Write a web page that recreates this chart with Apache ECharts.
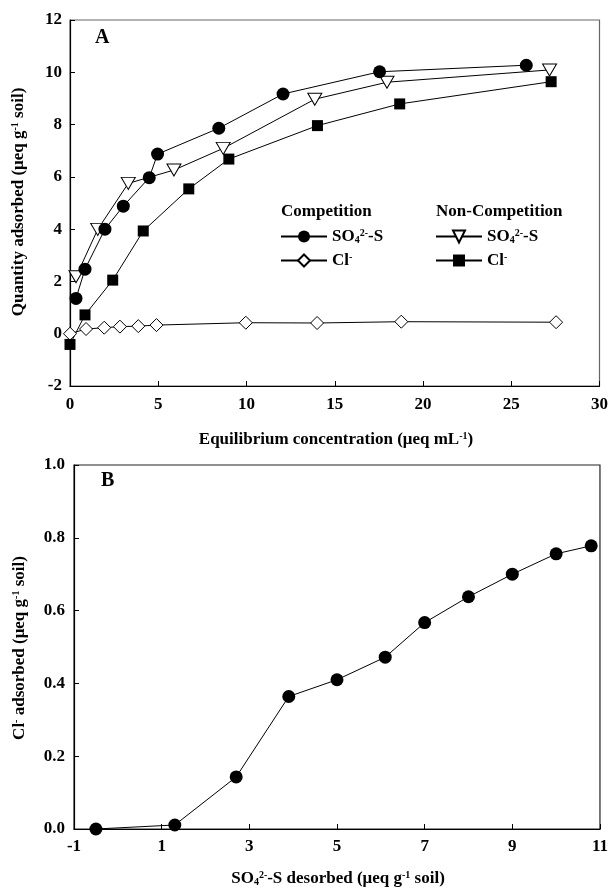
<!DOCTYPE html>
<html>
<head>
<meta charset="utf-8">
<script src="https://cdn.jsdelivr.net/npm/echarts@6/dist/echarts.min.js"></script>
<style>
  html, body { margin: 0; padding: 0; background: #fff; }
  #chart { width: 611px; height: 892px; }
</style>
</head>
<body>
<div id="chart"></div>
<script>
// ---- chart A: adsorption isotherms ----
var compSO4X = [0.34, 0.85, 1.98, 3.02, 4.49, 4.96, 8.43, 12.07, 17.54, 25.85];
var compSO4Y = [1.35, 2.47, 4.00, 4.88, 5.97, 6.87, 7.86, 9.17, 10.02, 10.27];
var compClX = [0, 0.91, 1.94, 2.83, 3.87, 4.90, 9.96, 14.0, 18.77, 27.54];
var compClY = [0, 0.18, 0.23, 0.27, 0.29, 0.33, 0.42, 0.41, 0.46, 0.44];
var nonSO4X = [0.34, 1.57, 3.30, 5.89, 8.68, 13.87, 17.96, 27.17];
var nonSO4Y = [2.18, 3.99, 5.75, 6.26, 7.09, 8.97, 9.62, 10.09];
var nonClX = [0, 0.85, 2.42, 4.15, 6.73, 9.00, 14.02, 18.68, 27.26];
var nonClY = [-0.41, 0.72, 2.05, 3.93, 5.54, 6.68, 7.96, 8.79, 9.64];

// ---- chart B: Cl- adsorbed vs SO4 desorbed ----
var desorbX = [-0.5, 1.3, 2.7, 3.9, 5.0, 6.1, 7.0, 8.0, 9.0, 10.0, 10.8];
var clAdsY = [0, 0.011, 0.143, 0.364, 0.41, 0.472, 0.567, 0.638, 0.70, 0.756, 0.778];
var bottomXTicks = [-1, 1, 3, 5, 7, 9, 11];

var FONT = '"Liberation Serif", "Times New Roman", serif';
var FS = 17;

function pairs(xs, ys) {
  var out = [];
  for (var i = 0; i < xs.length; i++) out.push([xs[i], ys[i]]);
  return out;
}

// 上下标样式
var rich = {
  sup: { fontFamily: FONT, fontWeight: 'bold', fontSize: 10, verticalAlign: 'top', padding: [0, 0, 7, 0] },
  sub: { fontFamily: FONT, fontWeight: 'bold', fontSize: 10, verticalAlign: 'bottom', padding: [7, 0, 0, 0] }
};
var legendNames = {
  cSO4: 'SO{sub|4}{sup|2-}-S',
  cCl: 'Cl{sup|-}',
  nSO4: 'SO{sub|4}{sup|2-}-S',
  nCl: 'Cl{sup|-}'
};

function label(margin, extra) {
  var l = { fontFamily: FONT, fontWeight: 'bold', fontSize: FS, color: '#000', margin: margin };
  return extra ? merge(l, extra) : l;
}

function axisCommon() {
  return {
    axisLine: { show: true, onZero: false, lineStyle: { color: '#000', width: 1.2 } },
    axisTick: { show: true, inside: true, length: 5, lineStyle: { color: '#000' } },
    splitLine: { show: false }
  };
}

function merge(a, b) {
  for (var k in b) a[k] = b[k];
  return a;
}

function titleText(text, x, y, rotate) {
  return {
    type: 'text',
    x: x, y: y,
    rotation: rotate ? Math.PI / 2 : 0,
    style: {
      text: text,
      fontFamily: FONT, fontWeight: 'bold', fontSize: FS,
      fill: '#000',
      align: 'center', verticalAlign: 'middle',
      rich: rich
    }
  };
}

var lineBase = {
  type: 'line',
  clip: false,
  lineStyle: { color: '#000', width: 1 },
  emphasis: { disabled: true }
};

var legendText = { fontFamily: FONT, fontWeight: 'bold', fontSize: FS, color: '#000', rich: rich };
var headText = { fontFamily: FONT, fontWeight: 'bold', fontSize: FS, color: '#000' };

var option = {
  animation: false,
  backgroundColor: '#fff',
  grid: [
    { left: 70, top: 20, width: 530, height: 366, show: true, borderColor: '#666', borderWidth: 1.2, backgroundColor: 'transparent' },
    { left: 74, top: 465, width: 528, height: 364, show: true, borderColor: '#222', borderWidth: 1.2, backgroundColor: 'transparent' }
  ],
  xAxis: [
    merge(axisCommon(), { type: 'value', gridIndex: 0, min: 0, max: 30, interval: 5,
      axisLabel: label(10) }),
    merge(axisCommon(), { type: 'value', gridIndex: 1, min: -1, max: 11,
      axisTick: { show: true, inside: true, length: 5, customValues: bottomXTicks, lineStyle: { color: '#000' } },
      axisLabel: label(9, { customValues: bottomXTicks }) })
  ],
  yAxis: [
    merge(axisCommon(), { type: 'value', gridIndex: 0, min: -2, max: 12, interval: 2,
      axisLabel: label(8) }),
    merge(axisCommon(), { type: 'value', gridIndex: 1, min: 0, max: 1, interval: 0.2,
      axisLabel: label(9, { formatter: function (v) { return v.toFixed(1); } }) })
  ],
  title: [
    { text: 'Competition', left: 281, top: 203, textStyle: headText, padding: 0 },
    { text: 'Non-Competition', left: 436, top: 203, textStyle: headText, padding: 0 }
  ],
  legend: [
    {
      orient: 'vertical', left: 280, top: 228, padding: 0,
      itemWidth: 46, itemHeight: 15, itemGap: 7,
      data: ['cSO4', 'cCl'],
      formatter: function (n) { return legendNames[n]; },
      textStyle: legendText
    },
    {
      orient: 'vertical', left: 435, top: 228, padding: 0,
      itemWidth: 46, itemHeight: 15, itemGap: 7,
      data: ['nSO4', 'nCl'],
      formatter: function (n) { return legendNames[n]; },
      textStyle: legendText
    }
  ],
  graphic: [
    { type: 'text', x: 95, y: 28, style: { text: 'A', fontFamily: FONT, fontWeight: 'bold', fontSize: 20, fill: '#000' } },
    { type: 'text', x: 101, y: 471, style: { text: 'B', fontFamily: FONT, fontWeight: 'bold', fontSize: 20, fill: '#000' } },
    titleText('Quantity adsorbed (μeq g{sup|-1} soil)', 19, 202, true),
    titleText('Equilibrium concentration (μeq mL{sup|-1})', 336, 440, false),
    titleText('Cl{sup|-} adsorbed (μeq g{sup|-1} soil)', 20, 648, true),
    titleText('SO{sub|4}{sup|2-}-S desorbed (μeq g{sup|-1} soil)', 338, 879, false)
  ],
  series: [
    merge(merge({}, lineBase), {
      name: 'cCl', xAxisIndex: 0, yAxisIndex: 0,
      data: pairs(compClX, compClY),
      symbol: 'diamond', symbolSize: [13, 13],
      itemStyle: { color: '#fff', borderColor: '#000', borderWidth: 1 }
    }),
    merge(merge({}, lineBase), {
      name: 'nCl', xAxisIndex: 0, yAxisIndex: 0,
      data: pairs(nonClX, nonClY),
      symbol: 'rect', symbolSize: 11,
      itemStyle: { color: '#000', borderColor: '#000', borderWidth: 0 }
    }),
    merge(merge({}, lineBase), {
      name: 'nSO4', xAxisIndex: 0, yAxisIndex: 0,
      data: pairs(nonSO4X, nonSO4Y),
      symbol: 'triangle', symbolRotate: 180, symbolSize: [14, 12],
      itemStyle: { color: '#fff', borderColor: '#000', borderWidth: 1 }
    }),
    merge(merge({}, lineBase), {
      name: 'cSO4', xAxisIndex: 0, yAxisIndex: 0,
      data: pairs(compSO4X, compSO4Y),
      symbol: 'circle', symbolSize: 13,
      itemStyle: { color: '#000', borderColor: '#000', borderWidth: 0 }
    }),
    merge(merge({}, lineBase), {
      name: 'desorb', xAxisIndex: 1, yAxisIndex: 1,
      data: pairs(desorbX, clAdsY),
      symbol: 'circle', symbolSize: 13,
      itemStyle: { color: '#000', borderColor: '#000', borderWidth: 0 }
    })
  ]
};

var myChart = echarts.init(document.getElementById('chart'));
myChart.setOption(option);
</script>
</body>
</html>
